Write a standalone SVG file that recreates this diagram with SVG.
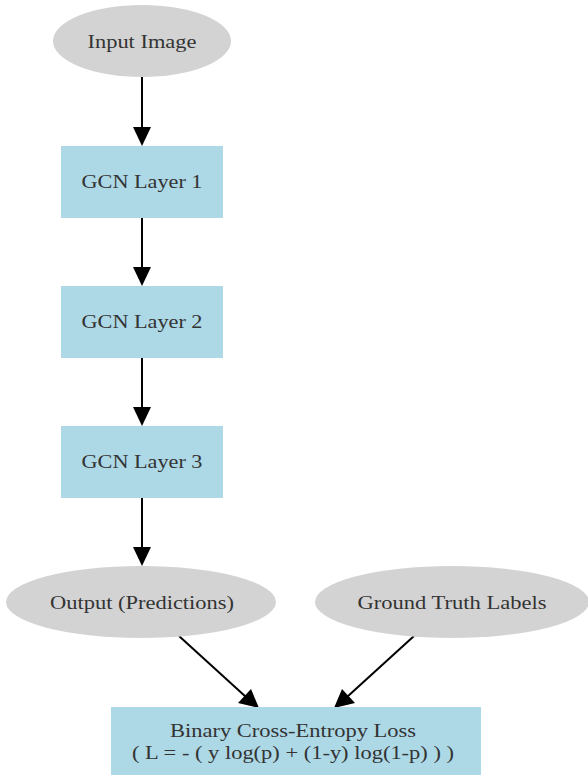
<svg xmlns="http://www.w3.org/2000/svg" width="588" height="777" viewBox="0 0 588 777">
<defs>
<style>
.ell{fill:#d3d3d3;stroke:none}
.box{fill:#add8e6;stroke:none}
.t{font-family:"Liberation Serif","Times New Roman",serif;font-size:18px;fill:#333;text-anchor:middle;dominant-baseline:central}
.e{stroke:#000;stroke-width:2;fill:none}
.h{fill:#000}
</style>
</defs>
<rect width="588" height="777" fill="#fff"/>
<g id="connectors">
<line class="e" x1="142" y1="76" x2="142" y2="128"/>
<polygon class="h" points="133,127 151,127 142,146"/>
<line class="e" x1="142" y1="218" x2="142" y2="268"/>
<polygon class="h" points="133,267 151,267 142,286"/>
<line class="e" x1="142" y1="358" x2="142" y2="408"/>
<polygon class="h" points="133,407 151,407 142,426"/>
<line class="e" x1="142" y1="498" x2="142" y2="548"/>
<polygon class="h" points="133,547 151,547 142,566"/>
<line class="e" x1="179" y1="636" x2="246" y2="697"/>
<polygon class="h" points="238,703 251,689 259,708"/>
<line class="e" x1="414" y1="636" x2="347" y2="697"/>
<polygon class="h" points="342,689 355,703 334,708"/>
</g>
<g id="input"><ellipse class="ell" cx="142" cy="41" rx="89" ry="36"/><text class="t" x="142" y="42" textLength="109" lengthAdjust="spacingAndGlyphs">Input Image</text></g>
<g id="gcn1"><rect class="box" x="61" y="146" width="162" height="72"/><text class="t" x="142" y="182" textLength="121" lengthAdjust="spacingAndGlyphs">GCN Layer 1</text></g>
<g id="gcn2"><rect class="box" x="61" y="286" width="162" height="72"/><text class="t" x="142" y="322" textLength="121" lengthAdjust="spacingAndGlyphs">GCN Layer 2</text></g>
<g id="gcn3"><rect class="box" x="61" y="426" width="162" height="72"/><text class="t" x="142" y="462" textLength="121" lengthAdjust="spacingAndGlyphs">GCN Layer 3</text></g>
<g id="output"><ellipse class="ell" cx="141" cy="602" rx="135" ry="36"/><text class="t" x="142" y="603" textLength="184" lengthAdjust="spacingAndGlyphs">Output (Predictions)</text></g>
<g id="truth"><ellipse class="ell" cx="452" cy="602" rx="137" ry="36"/><text class="t" x="452" y="603" textLength="189" lengthAdjust="spacingAndGlyphs">Ground Truth Labels</text></g>
<g id="loss"><rect class="box" x="111" y="707" width="370" height="68"/><text class="t" x="293" y="731" textLength="246" lengthAdjust="spacingAndGlyphs">Binary Cross-Entropy Loss</text><text class="t" x="293" y="753" textLength="322" lengthAdjust="spacingAndGlyphs">( L = - ( y log(p) + (1-y) log(1-p) ) )</text></g>
</svg>
